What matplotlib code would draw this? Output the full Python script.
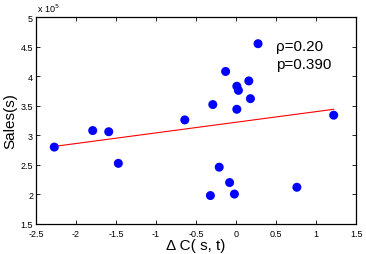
import matplotlib
matplotlib.use("Agg")
import matplotlib.pyplot as plt
from matplotlib.ticker import FuncFormatter, MultipleLocator

plt.rcParams['font.family'] = ['Liberation Sans', 'DejaVu Sans']

# data
delta_c = [-2.27, -1.79, -1.59, -1.47, -0.64, -0.29, -0.13, 0.01, 0.03, 0.16,
           0.18, 0.01, 0.275, 1.22, -0.21, -0.08, -0.32, -0.02, 0.76]
sales = [2.80, 3.08, 3.06, 2.525, 3.26, 3.52, 4.08, 3.83, 3.76, 3.92,
         3.62, 3.44, 4.55, 3.34, 2.46, 2.20, 1.98, 2.005, 2.12]
sales = [s * 1e5 for s in sales]

fit_x = [-2.28, 1.22]
fit_y = [2.81e5, 3.44e5]

rho_text = "\u03c1=0.20"
p_text = "p=0.390"

fig = plt.figure(figsize=(3.66, 2.55), dpi=100)
ax = fig.add_axes([0.098, 0.118, 0.875, 0.811])

ax.plot(fit_x, fit_y, color="red", lw=0.8, zorder=2)
ax.scatter(delta_c, sales, s=42, color="blue", edgecolors="none", zorder=3)

ax.set_xlim(-2.5, 1.5)
ax.set_ylim(1.5e5, 5e5)
ax.xaxis.set_major_locator(MultipleLocator(0.5))
ax.yaxis.set_major_locator(MultipleLocator(0.5e5))
ax.xaxis.set_major_formatter(FuncFormatter(lambda v, p: "%g" % v))
ax.yaxis.set_major_formatter(FuncFormatter(lambda v, p: "%g" % (v / 1e5)))
ax.tick_params(direction="in", length=3, width=0.6, labelsize=6.5,
               top=True, right=True)
ax.tick_params(axis="x", pad=3.5)
ax.tick_params(axis="y", pad=2)
for sp in ax.spines.values():
    sp.set_linewidth(0.9)

ax.set_xlabel("\u0394 C( s, t)", fontsize=11, labelpad=0)
ax.set_ylabel("Sales(s)", fontsize=11, labelpad=2)

ax.text(0.50, 4.51e5, rho_text, fontsize=11, va="center")
ax.text(0.50, 4.21e5, p_text, fontsize=11, va="center")
fig.text(0.101, 0.965, "x 10$^{5}$", fontsize=6.5, va="center")

fig.savefig("out.png", dpi=100)
